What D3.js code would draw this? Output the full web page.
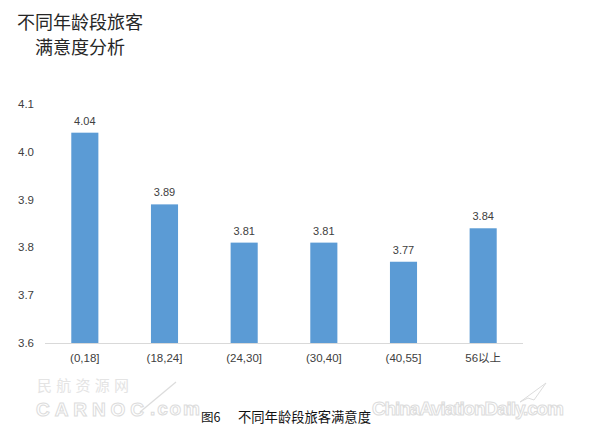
<!DOCTYPE html>
<html><head><meta charset="utf-8">
<script src="https://cdn.jsdelivr.net/npm/d3@7"></script>
<style>body{margin:0;background:#fff}svg{display:block}</style>
</head><body>
<svg id="c" width="600" height="437"></svg>
<script>
const categories = ["(0,18]", "(18,24]", "(24,30]", "(30,40]", "(40,55]", "56以上"];
const values = [4.04, 3.89, 3.81, 3.81, 3.77, 3.84];
const yTicks = [3.6, 3.7, 3.8, 3.9, 4.0, 4.1];
const titleLines = ["不同年龄段旅客", "满意度分析"];
const captionNum = "图6";
const captionText = "不同年龄段旅客满意度";

const svg = d3.select("#c");
const font = "'Liberation Sans', Arial, 'Noto Sans CJK SC', sans-serif";
const cjk = "'Noto Sans CJK SC', sans-serif";
const x = d3.scaleBand().domain(categories).range([45, 523]).paddingInner(0.66).paddingOuter(0.33);
const y = d3.scaleLinear().domain([3.6, 4.1]).range([343, 104]);

// watermarks (drawn first, very light)
const wm = "#dcdcdc";
svg.append("text").attr("x", 37).attr("y", 391).attr("font-family", cjk)
  .attr("font-size", 15).attr("fill", "#e4e4e4").attr("textLength", 92).text("民航资源网");
svg.append("text").attr("x", 36).attr("y", 416).attr("font-family", font).attr("font-weight", "bold")
  .attr("font-size", 19).attr("fill", "none").attr("stroke", wm).attr("stroke-width", 1)
  .attr("textLength", 108).text("CARNOC");
svg.append("line").attr("x1", 140).attr("y1", 412).attr("x2", 176).attr("y2", 382)
  .attr("stroke", wm).attr("stroke-width", 1.2);
svg.append("text").attr("x", 150).attr("y", 415).attr("font-family", font).attr("font-weight", "bold")
  .attr("font-size", 19).attr("fill", "none").attr("stroke", wm).attr("stroke-width", 1)
  .attr("textLength", 50).text(".com");
svg.append("text").attr("x", 372).attr("y", 415).attr("font-family", font).attr("font-weight", "bold")
  .attr("font-size", 19).attr("fill", "none").attr("stroke", wm).attr("stroke-width", 1)
  .attr("textLength", 192).text("ChinaAviationDaily.com");
svg.append("path").attr("d", "M520,402 L546,383 L534,400 L528,398 Z")
  .attr("fill", "none").attr("stroke", wm).attr("stroke-width", 1);

// title
svg.append("text").attr("x", 17).attr("y", 29).attr("font-family", cjk)
  .attr("font-size", 18).attr("fill", "#262626").text(titleLines[0]);
svg.append("text").attr("x", 35).attr("y", 54).attr("font-family", cjk)
  .attr("font-size", 18).attr("fill", "#262626").text(titleLines[1]);

// y tick labels
svg.append("g").selectAll("text").data(yTicks).join("text")
  .attr("x", 18).attr("y", d => y(d) + 4).attr("font-family", font).attr("font-size", 11.5)
  .attr("fill", "#404040").text(d => d.toFixed(1));

// bars
svg.append("g").selectAll("rect").data(values).join("rect")
  .attr("x", (d, i) => x(categories[i])).attr("width", x.bandwidth())
  .attr("y", d => y(d)).attr("height", d => y(3.6) - y(d)).attr("fill", "#5b9bd5");

// value labels
svg.append("g").selectAll("text").data(values).join("text")
  .attr("x", (d, i) => x(categories[i]) + x.bandwidth() / 2).attr("y", d => y(d) - 8)
  .attr("text-anchor", "middle").attr("font-family", font).attr("font-size", 11)
  .attr("fill", "#404040").text(d => d.toFixed(2));

// x axis line
svg.append("line").attr("x1", 45).attr("x2", 523).attr("y1", 343.5).attr("y2", 343.5)
  .attr("stroke", "#d9d9d9").attr("stroke-width", 1);

// x labels
svg.append("g").selectAll("text").data(categories).join("text")
  .attr("x", d => x(d) + x.bandwidth() / 2).attr("y", 362).attr("text-anchor", "middle")
  .attr("font-family", font).attr("font-size", 11.5).attr("fill", "#404040").text(d => d);

// caption
svg.append("text").attr("x", 201).attr("y", 422).attr("font-family", cjk)
  .attr("font-size", 12.5).attr("fill", "#111").text(captionNum);
svg.append("text").attr("x", 238).attr("y", 422).attr("font-family", cjk)
  .attr("font-size", 13.3).attr("fill", "#111").text(captionText);
</script>
</body></html>
